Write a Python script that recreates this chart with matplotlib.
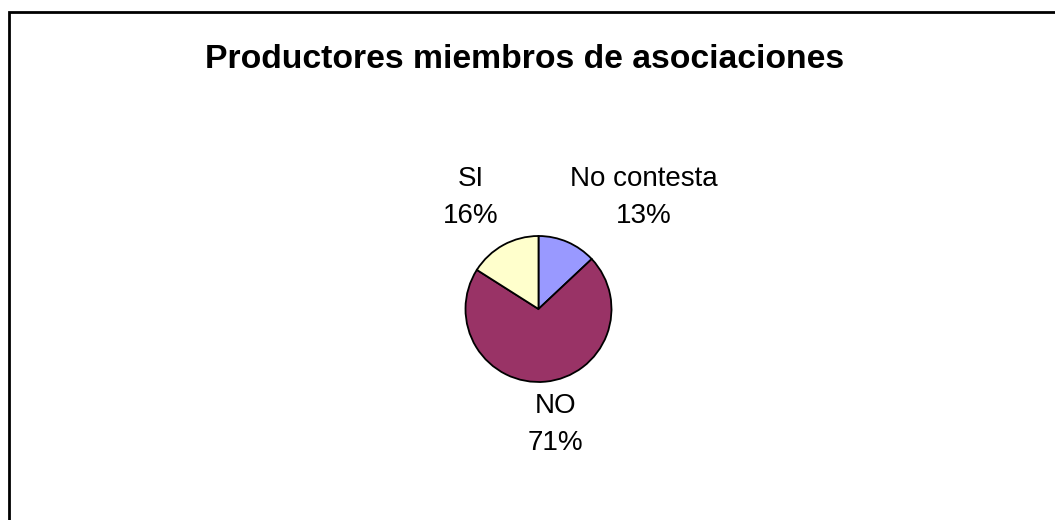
import numpy as np
import matplotlib
matplotlib.use("Agg")
import matplotlib.pyplot as plt
from matplotlib.patches import Rectangle

# datos del grafico
categorias = ["No contesta", "NO", "SI"]
porcentajes = [13, 71, 16]
colores = ["#9999FF", "#993366", "#FFFFCC"]
titulo = "Productores miembros de asociaciones"

# desplazamiento de cada etiqueta respecto al borde de su porcion (pixeles)
offsets = [(76, 45), (10, -43), (-33, 48)]

plt.rcParams["font.family"] = ["Liberation Sans", "DejaVu Sans"]

W, H = 1055, 520
fig = plt.figure(figsize=(W / 100, H / 100), dpi=100)
fig.patch.set_facecolor("white")

# marco exterior del grafico
fig.add_artist(Rectangle((9 / W, -0.1), 1.2, 1.1 - 12 / H,
                         transform=fig.transFigure, fill=False,
                         edgecolor="black", linewidth=2))

ax = fig.add_axes([0, 0, 1, 1])

cx, cy, r = 538.5, H - 309, 73
wedges, _ = ax.pie(porcentajes, colors=colores, startangle=90, counterclock=False,
                   center=(cx, cy), radius=r,
                   wedgeprops=dict(edgecolor="black", linewidth=1.3))

# pie cambia los limites: se fijan despues
ax.set_xlim(0, W)
ax.set_ylim(0, H)
ax.set_aspect("equal")
ax.axis("off")

for w, cat, p, off in zip(wedges, categorias, porcentajes, offsets):
    ang = np.deg2rad((w.theta1 + w.theta2) / 2)
    xy = (cx + r * np.cos(ang), cy + r * np.sin(ang))
    ax.annotate(f"{cat}\n{p}%", xy=xy, xytext=off, textcoords="offset pixels",
                ha="center", va="center", fontsize=20, linespacing=1.55)

fig.text(525 / W, 1 - 68 / H, titulo, ha="center", va="baseline",
         fontsize=24.3, fontweight="bold")

fig.savefig("out.png", dpi=100)
